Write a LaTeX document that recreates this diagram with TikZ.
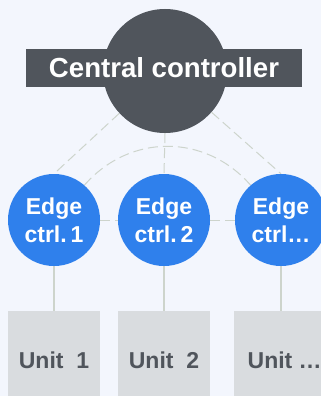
\documentclass[tikz,border=0pt]{standalone}
\usepackage{fontspec}
\setmainfont{Liberation Sans}
\usetikzlibrary{backgrounds}
\definecolor{bgcol}{HTML}{F3F6FD}
\definecolor{darkcol}{HTML}{50555C}
\definecolor{edgeblue}{HTML}{2F80EC}
\definecolor{unitgray}{HTML}{D9DCDF}
\definecolor{linkcol}{HTML}{CDD4CC}
\tikzset{
  hub/.style={circle, fill=darkcol, minimum size=124pt, inner sep=0pt},
  banner/.style={rectangle, fill=darkcol, minimum width=276pt, minimum height=38pt,
    inner sep=0pt, text=white, font=\bfseries\fontsize{27.6}{30}\selectfont},
  edgectrl/.style={circle, fill=edgeblue, minimum size=92pt, inner sep=0pt,
    text=white, align=center, font=\bfseries\fontsize{23}{28}\selectfont},
  unitbox/.style={rectangle, fill=unitgray, minimum width=92pt, minimum height=98pt,
    inner sep=0pt, text=darkcol, font=\bfseries\fontsize{23}{28}\selectfont},
  dashlink/.style={draw=linkcol, line width=1pt, dash pattern=on 10pt off 5pt},
  solidlink/.style={draw=linkcol, line width=1.4pt}
}
\begin{document}
\begin{tikzpicture}[x=1pt, y=-1pt]
  \useasboundingbox (0,0) rectangle (321,396);

  % central controller
  \node[hub] (cc) at (165,71) {};
  \node[banner] (ban) at (164,68) {Central controller};

  % edge controllers
  \node[edgectrl] (e1) at (54,220) {Edge\\ctrl.\,1};
  \node[edgectrl] (e2) at (164,220) {Edge\\ctrl.\,2};
  \node[edgectrl] (e3) at (281,220) {Edge\\ctrl\ldots};

  % units
  \node[unitbox] (u1) at (54,360) {Unit\ \ 1};
  \node[unitbox] (u2) at (164,360) {Unit\ \ 2};
  \node[unitbox, anchor=west] (u3) at (234,360) {\hspace{9pt}Unit \ldots\hfill};

  \begin{scope}[on background layer]
    \fill[bgcol] (0,0) rectangle (321,396);
    \draw[dashlink] (cc) -- (e1.north);
    \draw[dashlink] (cc.south) -- (e2.north);
    \draw[dashlink] (cc) -- (e3.north);
    \draw[dashlink] (e1) .. controls (129.7,133.3) and (205.3,133.3) .. (e3);
    \draw[dashlink] (e1) -- (e2);
    \draw[dashlink] (e2) -- (e3);
    \draw[solidlink] (e1.south) -- (u1.north);
    \draw[solidlink] (e2.south) -- (u2.north);
    \draw[solidlink] (e3.south) -- (e3.south |- u3.north);
  \end{scope}
\end{tikzpicture}
\end{document}
